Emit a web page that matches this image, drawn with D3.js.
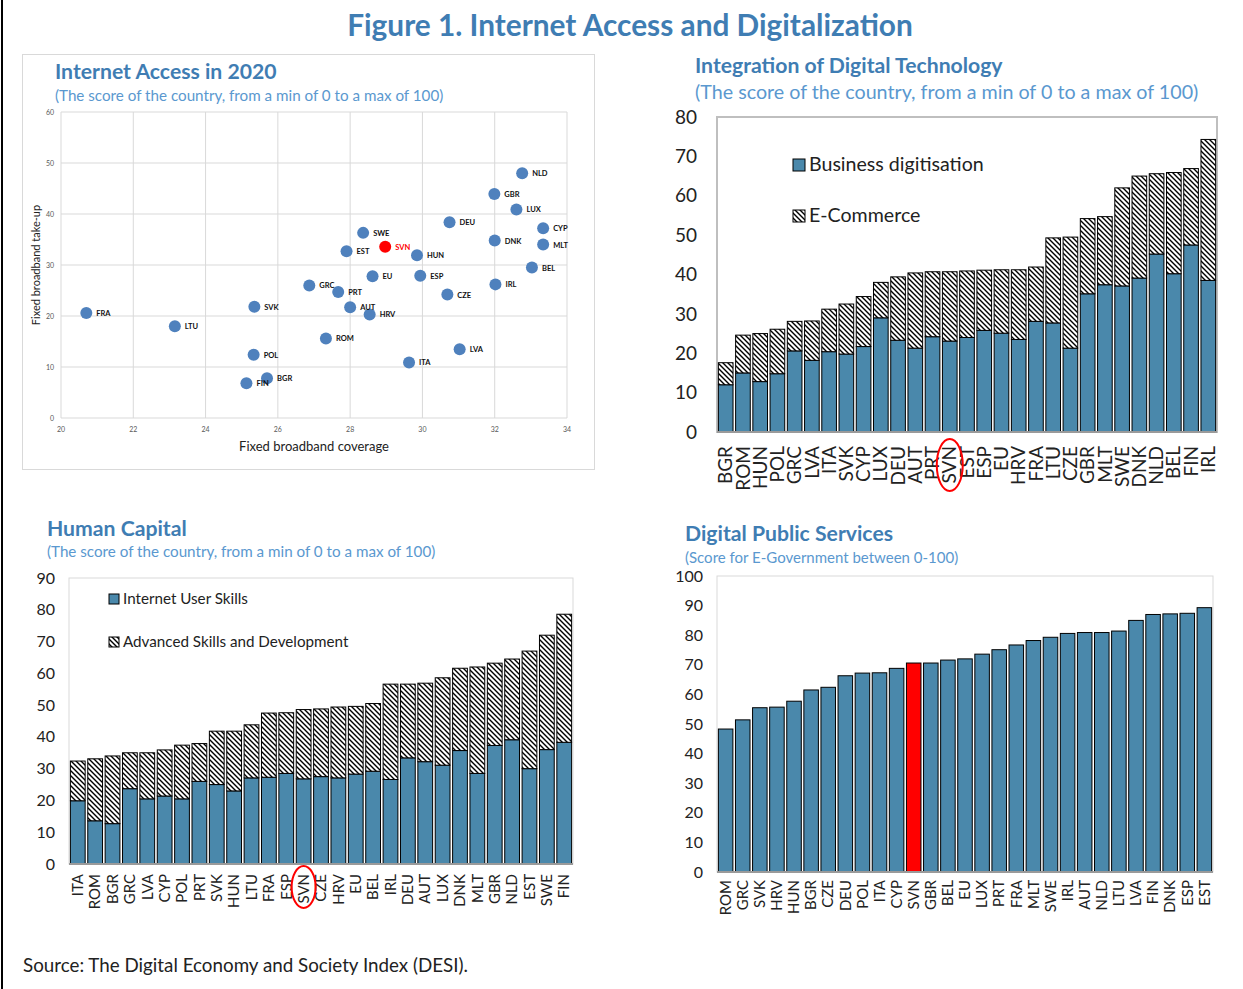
<!DOCTYPE html>
<html>
<head>
<meta charset="utf-8">
<script src="https://cdn.jsdelivr.net/npm/d3@7"></script>
<style>
  body { margin: 0; background: #fff; }
  text { font-family: Lato, "Open Sans", sans-serif; }
</style>
</head>
<body>
<svg id="fig" width="1243" height="989"></svg>
<script>
// Internet access scatter (coverage vs take-up)
var accessCountries = ["FRA","LTU","SVK","POL","BGR","FIN","GRC","PRT","ROM","AUT","HRV","EU","EST","SWE","SVN","HUN","ESP","ITA","DEU","CZE","LVA","IRL","DNK","GBR","LUX","NLD","CYP","MLT","BEL"];
var coverage = [20.7,23.15,25.35,25.33,25.7,25.13,26.87,27.67,27.33,28.0,28.54,28.62,27.9,28.36,28.97,29.85,29.94,29.63,30.75,30.69,31.03,32.02,32.0,31.99,32.6,32.76,33.34,33.34,33.03];
var takeup = [20.6,18.0,21.8,12.4,7.8,6.8,26.0,24.7,15.6,21.7,20.3,27.8,32.7,36.3,33.6,31.9,27.9,10.9,38.4,24.2,13.5,26.2,34.8,43.9,40.9,48.0,37.2,34.0,29.5];
var coverageTicks = [20,22,24,26,28,30,32,34];
var takeupTicks = [0,10,20,30,40,50,60];

// Integration of digital technology
var techCountries = ["BGR","ROM","HUN","POL","GRC","LVA","ITA","SVK","CYP","LUX","DEU","AUT","PRT","SVN","EST","ESP","EU","HRV","FRA","LTU","CZE","GBR","MLT","SWE","DNK","NLD","BEL","FIN","IRL"];
var businessDigitisation = [12.0,15.0,12.8,14.8,20.6,18.2,20.4,19.8,21.7,29.0,23.3,21.3,24.2,23.1,24.0,25.8,25.1,23.5,28.1,27.7,21.3,35.1,37.4,37.1,39.1,45.2,40.2,47.5,38.5];
var eCommerce = [5.6,9.6,12.2,11.3,7.5,10.0,10.8,12.7,12.7,9.0,16.1,19.1,16.5,17.6,16.9,15.3,16.1,17.7,13.8,21.6,28.2,19.1,17.3,24.9,25.9,20.4,25.7,19.4,35.8];
var techTicks = [0,10,20,30,40,50,60,70,80];

// Human capital
var skillCountries = ["ITA","ROM","BGR","GRC","LVA","CYP","POL","PRT","SVK","HUN","LTU","FRA","ESP","SVN","CZE","HRV","EU","BEL","IRL","DEU","AUT","LUX","DNK","MLT","GBR","NLD","EST","SWE","FIN"];
var userSkills = [19.9,13.6,12.7,23.7,20.5,21.4,20.5,26.0,25.0,23.0,27.1,27.3,28.5,26.8,27.5,27.1,28.3,29.2,26.6,33.4,32.2,31.1,35.7,28.5,37.3,39.1,30.0,36.0,38.3];
var advancedSkills = [12.5,19.5,21.3,11.3,14.5,14.5,16.9,11.9,16.8,18.8,16.7,20.2,19.1,21.8,21.3,22.3,21.3,21.3,30.0,23.2,24.7,27.5,25.9,33.5,25.9,25.4,37.0,36.0,40.3];
var skillTicks = [0,10,20,30,40,50,60,70,80,90];

// Digital public services
var govCountries = ["ROM","GRC","SVK","HRV","HUN","BGR","CZE","DEU","POL","ITA","CYP","SVN","GBR","BEL","EU","LUX","PRT","FRA","MLT","SWE","IRL","AUT","NLD","LTU","LVA","FIN","DNK","ESP","EST"];
var eGovernment = [48.3,51.4,55.5,55.7,57.7,61.5,62.4,66.3,67.2,67.3,68.8,70.6,70.6,71.6,72.0,73.6,75.1,76.7,78.2,79.3,80.6,80.9,80.9,81.4,85.0,87.0,87.2,87.4,89.3];
var govTicks = [0,10,20,30,40,50,60,70,80,90,100];

var titleBlue = "#3f7db3",
    subBlue = "#5a98cf",
    barBlue = "#4a88ab",
    dotBlue = "#4f81bd";

var svg = d3.select("#fig");

// hatch pattern for the stacked parts
var pat = svg.append("defs").append("pattern")
  .attr("id", "hatch")
  .attr("patternUnits", "userSpaceOnUse")
  .attr("width", 5)
  .attr("height", 5);
pat.append("rect").attr("width", 5).attr("height", 5).attr("fill", "#fff");
pat.append("path")
  .attr("d", "M-1,-1L6,6M4,-1L6,1M-1,4L1,6")
  .attr("stroke", "#000")
  .attr("stroke-width", 1.4);

// left border and figure title
svg.append("line")
  .attr("x1", 2).attr("x2", 2).attr("y1", 0).attr("y2", 989)
  .attr("stroke", "#000").attr("stroke-width", 2);

svg.append("text")
  .attr("x", 630).attr("y", 36)
  .style("text-anchor", "middle")
  .style("font-size", "29.8px")
  .style("font-weight", "bold")
  .style("fill", titleBlue)
  .text("Figure 1. Internet Access and Digitalization");

svg.append("text")
  .attr("x", 23).attr("y", 972)
  .style("font-size", "18.8px")
  .style("fill", "#222")
  .text("Source: The Digital Economy and Society Index (DESI).");

var panelTitle = function(x, y, title, sub, subY, subSize) {
  svg.append("text")
    .attr("x", x).attr("y", y)
    .style("font-size", "21.2px")
    .style("font-weight", "bold")
    .style("fill", titleBlue)
    .text(title);
  svg.append("text")
    .attr("x", x).attr("y", subY)
    .style("font-size", subSize + "px")
    .style("fill", subBlue)
    .text(sub);
};

// ---------- scatter: Internet Access in 2020 ----------
svg.append("rect")
  .attr("x", 22.5).attr("y", 54.5).attr("width", 572).attr("height", 415)
  .attr("fill", "none").attr("stroke", "#d9d9d9");

panelTitle(55, 79, "Internet Access in 2020",
  "(The score of the country, from a min of 0 to a max of 100)", 101, 15.2);

var sx = d3.scaleLinear().domain([20, 34]).range([61, 567]);
var sy = d3.scaleLinear().domain([0, 60]).range([418, 112]);

var grid = svg.append("g");
grid.selectAll(".vg").data(coverageTicks).enter().append("line")
  .attr("x1", function(d) { return sx(d); })
  .attr("x2", function(d) { return sx(d); })
  .attr("y1", sy(0)).attr("y2", sy(60))
  .attr("stroke", "#d9d9d9");
grid.selectAll(".hg").data(takeupTicks).enter().append("line")
  .attr("x1", sx(20)).attr("x2", sx(34))
  .attr("y1", function(d) { return sy(d); })
  .attr("y2", function(d) { return sy(d); })
  .attr("stroke", "#d9d9d9");

svg.selectAll(".xt").data(coverageTicks).enter().append("text")
  .attr("x", function(d) { return sx(d); })
  .attr("y", 432)
  .style("text-anchor", "middle")
  .style("font-size", "7px")
  .style("fill", "#595959")
  .text(function(d) { return d; });
svg.selectAll(".yt").data(takeupTicks).enter().append("text")
  .attr("x", 54)
  .attr("y", function(d) { return sy(d) + 2.5; })
  .style("text-anchor", "end")
  .style("font-size", "7px")
  .style("fill", "#595959")
  .text(function(d) { return d; });

svg.append("text")
  .attr("x", 314).attr("y", 451)
  .style("text-anchor", "middle")
  .style("font-size", "13px")
  .style("fill", "#222")
  .text("Fixed broadband coverage");
svg.append("text")
  .attr("transform", "translate(40," + sy(30) + ") rotate(-90)")
  .style("text-anchor", "middle")
  .style("font-size", "11px")
  .style("fill", "#222")
  .text("Fixed broadband take-up");

var pts = accessCountries.map(function(c, i) {
  return { name: c, x: coverage[i], y: takeup[i] };
});
svg.selectAll(".dot").data(pts).enter().append("circle")
  .attr("cx", function(d) { return sx(d.x); })
  .attr("cy", function(d) { return sy(d.y); })
  .attr("r", 6)
  .attr("fill", function(d) { return d.name == "SVN" ? "#ff0000" : dotBlue; });
svg.selectAll(".lab").data(pts).enter().append("text")
  .attr("x", function(d) { return sx(d.x) + 10; })
  .attr("y", function(d) { return sy(d.y) + 3; })
  .style("font-size", "7.5px")
  .style("font-weight", "bold")
  .style("fill", function(d) { return d.name == "SVN" ? "#ff0000" : "#111"; })
  .text(function(d) { return d.name; });

// ---------- shared bar chart helper ----------
var barChart = function(o) {
  var x = d3.scaleBand().domain(o.cats).range([o.x0, o.x1])
            .paddingInner(0.15).paddingOuter(0.08);
  var y = d3.scaleLinear().domain([0, o.ymax]).range([o.y1, o.y0]);

  svg.append("rect")
    .attr("x", o.x0).attr("y", o.y0)
    .attr("width", o.x1 - o.x0).attr("height", o.y1 - o.y0)
    .attr("fill", "none").attr("stroke", o.frame).attr("stroke-width", o.frameW);

  svg.selectAll(null).data(o.ticks).enter().append("text")
    .attr("x", o.x0 - o.labGap)
    .attr("y", function(d) { return y(d) + o.tickSize * 0.35; })
    .style("text-anchor", "end")
    .style("font-size", o.tickSize + "px")
    .style("fill", "#222")
    .text(function(d) { return d; });

  o.series.forEach(function(s, k) {
    svg.selectAll(null).data(o.cats).enter().append("rect")
      .attr("x", function(d) { return x(d); })
      .attr("width", x.bandwidth())
      .attr("y", function(d, i) {
        var base = k == 0 ? 0 : o.series[0].values[i];
        return y(base + s.values[i]);
      })
      .attr("height", function(d, i) { return y(0) - y(s.values[i]); })
      .attr("fill", function(d) { return s.fill(d); })
      .attr("stroke", "#000")
      .attr("stroke-width", 1);
  });

  svg.append("line")
    .attr("x1", o.x0).attr("x2", o.x1).attr("y1", o.y1).attr("y2", o.y1)
    .attr("stroke", "#9a9a9a").attr("stroke-width", 2);

  svg.selectAll(null).data(o.cats).enter().append("text")
    .attr("transform", function(d) {
      return "translate(" + (x(d) + x.bandwidth() / 2) + "," + (o.y1 + o.catGap) + ") rotate(-90)";
    })
    .attr("dy", "0.35em")
    .style("text-anchor", "end")
    .style("font-size", o.catSize + "px")
    .style("fill", "#222")
    .text(function(d) { return d; });

  if (o.circle) {
    var cx = x(o.circle) + x.bandwidth() / 2;
    svg.append("ellipse")
      .attr("cx", cx).attr("cy", o.y1 + o.circleDy)
      .attr("rx", o.circleRx).attr("ry", o.circleRy)
      .attr("fill", "none").attr("stroke", "#ff0000").attr("stroke-width", 2);
  }
  return { x: x, y: y };
};

var legend = function(x, y, size, fill, label, fs) {
  svg.append("rect")
    .attr("x", x).attr("y", y - size)
    .attr("width", size).attr("height", size)
    .attr("fill", fill).attr("stroke", "#000").attr("stroke-width", 1);
  svg.append("text")
    .attr("x", x + size + 4).attr("y", y)
    .style("font-size", fs + "px")
    .style("fill", "#222")
    .text(label);
};

// ---------- Integration of Digital Technology ----------
panelTitle(695, 73, "Integration of Digital Technology",
  "(The score of the country, from a min of 0 to a max of 100)", 99, 19.7);

barChart({
  cats: techCountries, ymax: 80, ticks: techTicks,
  x0: 717, x1: 1217, y0: 117, y1: 432,
  frame: "#bfbfbf", frameW: 2,
  tickSize: 19, labGap: 20, catSize: 19, catGap: 14,
  series: [
    { values: businessDigitisation, fill: function() { return barBlue; } },
    { values: eCommerce, fill: function() { return "url(#hatch)"; } }
  ],
  circle: "SVN", circleDy: 33, circleRx: 13, circleRy: 26
});
legend(793, 171, 12, barBlue, "Business digitisation", 19.6);
legend(793, 222, 12, "url(#hatch)", "E-Commerce", 19.6);

// ---------- Human Capital ----------
panelTitle(47, 536, "Human Capital",
  "(The score of the country, from a min of 0 to a max of 100)", 557, 15.2);

barChart({
  cats: skillCountries, ymax: 90, ticks: skillTicks,
  x0: 69, x1: 573, y0: 578, y1: 864,
  frame: "#d9d9d9", frameW: 1,
  tickSize: 16, labGap: 14, catSize: 15, catGap: 10,
  series: [
    { values: userSkills, fill: function() { return barBlue; } },
    { values: advancedSkills, fill: function() { return "url(#hatch)"; } }
  ],
  circle: "SVN", circleDy: 23, circleRx: 12, circleRy: 21
});
legend(109, 604, 10, barBlue, "Internet User Skills", 15.2);
legend(109, 647, 10, "url(#hatch)", "Advanced Skills and Development", 15.2);

// ---------- Digital Public Services ----------
panelTitle(685, 541, "Digital Public Services",
  "(Score for E-Government between 0-100)", 563, 15);

barChart({
  cats: govCountries, ymax: 100, ticks: govTicks,
  x0: 717, x1: 1213, y0: 576, y1: 872,
  frame: "#d9d9d9", frameW: 1,
  tickSize: 16, labGap: 14, catSize: 15, catGap: 8,
  series: [
    { values: eGovernment, fill: function(d) { return d == "SVN" ? "#ff0000" : barBlue; } }
  ]
});
</script>
</body>
</html>
